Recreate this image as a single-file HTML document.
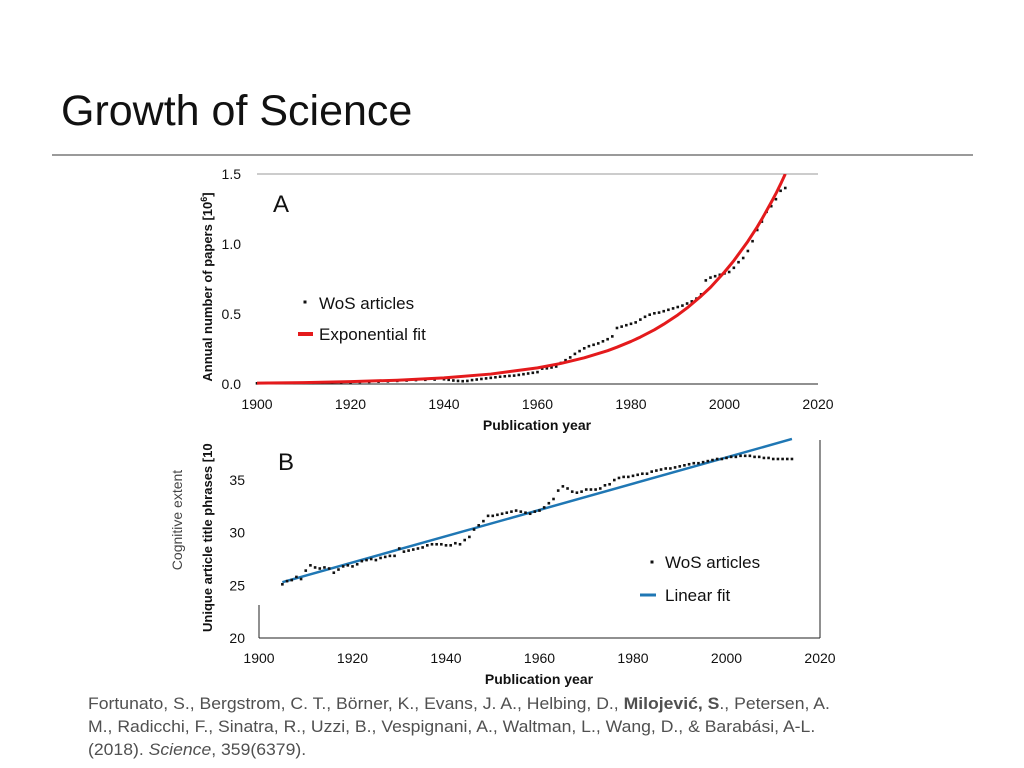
<!DOCTYPE html>
<html><head><meta charset="utf-8"><style>
html,body{margin:0;padding:0;background:#fff;width:1024px;height:768px;overflow:hidden;font-family:"Liberation Sans",Arial,sans-serif}
#title{position:absolute;left:61px;top:87px;font-size:43px;color:#111;white-space:nowrap}
#rule{position:absolute;left:52px;top:154px;width:921px;height:2px;background:#9a9a9a}
#cite{position:absolute;left:88px;top:692px;font-size:17px;line-height:23px;color:#505050;white-space:nowrap;transform-origin:0 0;transform:scaleX(1.035)}
svg{position:absolute;left:0;top:0}
</style></head><body>
<div id="title">Growth of Science</div>
<div id="rule"></div>
<svg id="chart" width="1024" height="768"></svg>
<div id="cite">Fortunato, S., Bergstrom, C. T., Börner, K., Evans, J. A., Helbing, D., <b>Milojević, S</b>., Petersen, A.<br>M., Radicchi, F., Sinatra, R., Uzzi, B., Vespignani, A., Waltman, L., Wang, D., &amp; Barabási, A-L.<br>(2018). <i>Science</i>, 359(6379).</div>
<script>
const yearsA = [1900,1902,1904,1906,1908,1910,1912,1914,1916,1918,1920,1922,1924,1926,1928,1930,1932,1934,1936,1938,1940,1941,1942,1943,1944,1945,1946,1947,1948,1949,1950,1951,1952,1953,1954,1955,1956,1957,1958,1959,1960,1961,1962,1963,1964,1965,1966,1967,1968,1969,1970,1971,1972,1973,1974,1975,1976,1977,1978,1979,1980,1981,1982,1983,1984,1985,1986,1987,1988,1989,1990,1991,1992,1993,1994,1995,1996,1997,1998,1999,2000,2001,2002,2003,2004,2005,2006,2007,2008,2009,2010,2011,2012,2013];
const papersA = [0.005,0.006,0.006,0.007,0.007,0.008,0.008,0.009,0.009,0.010,0.012,0.014,0.015,0.017,0.019,0.022,0.025,0.028,0.030,0.032,0.034,0.030,0.025,0.022,0.020,0.022,0.028,0.032,0.036,0.040,0.044,0.048,0.052,0.055,0.058,0.060,0.065,0.070,0.075,0.080,0.085,0.110,0.112,0.118,0.125,0.150,0.170,0.190,0.215,0.235,0.255,0.270,0.280,0.290,0.305,0.320,0.340,0.400,0.410,0.420,0.430,0.440,0.460,0.480,0.495,0.505,0.510,0.520,0.530,0.540,0.550,0.560,0.575,0.590,0.610,0.640,0.740,0.760,0.770,0.780,0.790,0.800,0.830,0.870,0.900,0.950,1.020,1.100,1.160,1.230,1.270,1.320,1.380,1.400];
const fitYearsA = [1900,1910,1920,1930,1940,1950,1960,1965,1970,1975,1977,1980,1982,1985,1987,1990,1992,1995,1997,2000,2002,2005,2007,2008,2010,2011,2012,2013];
const fitA = [0.006,0.010,0.017,0.027,0.044,0.071,0.115,0.147,0.187,0.238,0.263,0.304,0.335,0.387,0.427,0.493,0.543,0.628,0.690,0.800,0.881,1.019,1.122,1.178,1.298,1.360,1.428,1.500];
const xTicksA = [1900,1920,1940,1960,1980,2000,2020];
const yTicksA = [0.0,0.5,1.0,1.5];

const yearsB = [];for(let y=1905;y<=2014;y++)yearsB.push(y);
const phrasesB = [25.1,25.4,25.5,25.8,25.6,26.4,26.9,26.7,26.6,26.7,26.6,26.2,26.5,26.8,26.9,26.8,27.0,27.3,27.4,27.5,27.4,27.6,27.7,27.8,27.8,28.5,28.2,28.3,28.4,28.5,28.6,28.8,28.9,28.9,28.9,28.8,28.8,29.0,28.9,29.3,29.6,30.3,30.7,31.1,31.6,31.6,31.7,31.8,31.9,32.0,32.1,32.0,31.9,31.8,32.0,32.1,32.4,32.8,33.2,34.0,34.4,34.2,33.9,33.8,33.9,34.1,34.1,34.1,34.2,34.5,34.6,35.0,35.2,35.3,35.3,35.4,35.5,35.6,35.6,35.8,35.9,36.0,36.1,36.1,36.2,36.3,36.4,36.5,36.6,36.6,36.7,36.8,36.9,37.0,37.0,37.1,37.2,37.2,37.3,37.3,37.3,37.2,37.2,37.1,37.1,37.0,37.0,37.0,37.0,37.0];
const fitYearsB = [1905,2014];
const fitB = [25.3,38.9];
const xTicksB = [1900,1920,1940,1960,1980,2000,2020];
const yTicksB = [20,25,30,35];

const NS='http://www.w3.org/2000/svg';
const svg=document.getElementById('chart');
function mk(tag,attrs,parent){const e=document.createElementNS(NS,tag);for(const k in attrs)e.setAttribute(k,attrs[k]);(parent||svg).appendChild(e);return e;}
const defs=mk('defs',{});
const cA=mk('clipPath',{id:'clipA'},defs);mk('rect',{x:257,y:174,width:561,height:212},cA);
const cB=mk('clipPath',{id:'clipYB'},defs);mk('rect',{x:190,y:440,width:40,height:200},cB);

// Chart A
const xA=y=>257+(y-1900)*(818-257)/120;
const yA=v=>384-v*(384-174)/1.5;
const gA=mk('g',{});


mk('line',{x1:257,y1:174,x2:818,y2:174,stroke:'#999','stroke-width':1},gA);
mk('line',{x1:257,y1:384,x2:818,y2:384,stroke:'#222','stroke-width':1},gA);
xTicksA.forEach(t=>{const e=mk('text',{x:xA(t),y:409,'font-size':14,'text-anchor':'middle',fill:'#111'},gA);e.textContent=t;

});
yTicksA.forEach(t=>{const e=mk('text',{x:241,y:yA(t)+5,'font-size':14,'text-anchor':'end',fill:'#111'},gA);e.textContent=t.toFixed(1);

});
let tA=mk('text',{x:537,y:430,'font-size':14,'font-weight':'bold','text-anchor':'middle',fill:'#111'},gA);tA.textContent='Publication year';


let yAt=mk('text',{transform:'translate(212,287) rotate(-90)','font-size':13,'font-weight':'bold','text-anchor':'middle',fill:'#111'},gA);yAt.innerHTML='Annual number of papers [10<tspan font-size="9" dy="-5">6</tspan><tspan dy="5">]</tspan>';


let lA=mk('text',{x:273,y:212,'font-size':24,fill:'#111'},gA);lA.textContent='A';


yearsA.forEach((y,i)=>{const r=mk('rect',{x:xA(y)-1.3,y:yA(papersA[i])-1.3,width:2.6,height:2.6,fill:'#111'},gA);

});
let pA=mk('path',{d:fitYearsA.map((y,i)=>(i?'L':'M')+xA(y)+','+yA(fitA[i])).join(''),fill:'none',stroke:'#e41a1c','stroke-width':3,'stroke-linejoin':'round','clip-path':'url(#clipA)'},gA);


let lg1=mk('g',{},gA);


mk('rect',{x:303.5,y:300.5,width:3,height:3,fill:'#111'},lg1);
let lt1=mk('text',{x:319,y:309,'font-size':17,fill:'#111'},lg1);lt1.textContent='WoS articles';
mk('line',{x1:298,y1:334,x2:313,y2:334,stroke:'#e41a1c','stroke-width':4},lg1);
let lt2=mk('text',{x:319,y:340,'font-size':17,fill:'#111'},lg1);lt2.textContent='Exponential fit';

// Chart B
const xB=y=>259+(y-1900)*(820-259)/120;
const yB=v=>638-(v-20)*10.53;
const gB=mk('g',{});


mk('line',{x1:259,y1:605,x2:259,y2:638,stroke:'#222'},gB);
mk('line',{x1:259,y1:638,x2:820,y2:638,stroke:'#222'},gB);
mk('line',{x1:820,y1:440,x2:820,y2:638,stroke:'#222'},gB);
xTicksB.forEach(t=>{const e=mk('text',{x:xB(t),y:663,'font-size':14,'text-anchor':'middle',fill:'#111'},gB);e.textContent=t;

});
yTicksB.forEach(t=>{const e=mk('text',{x:245,y:yB(t)+5,'font-size':14,'text-anchor':'end',fill:'#111'},gB);e.textContent=t;

});
let tB=mk('text',{x:539,y:684,'font-size':14,'font-weight':'bold','text-anchor':'middle',fill:'#111'},gB);tB.textContent='Publication year';


let clipG=mk('g',{'clip-path':'url(#clipYB)'},gB);
let yBt=mk('text',{transform:'translate(212,632) rotate(-90)','font-size':13,'font-weight':'bold','text-anchor':'start',fill:'#111'},clipG);
yBt.textContent='Unique article title phrases [10';


let ce=mk('text',{transform:'translate(182,520) rotate(-90)','font-size':14,'text-anchor':'middle',fill:'#444'},gB);ce.textContent='Cognitive extent';


let lB=mk('text',{x:278,y:470,'font-size':24,fill:'#111'},gB);lB.textContent='B';


let pB=mk('path',{d:fitYearsB.map((y,i)=>(i?'L':'M')+xB(y)+','+yB(fitB[i])).join(''),fill:'none',stroke:'#1f77b4','stroke-width':2.5},gB);


yearsB.forEach((y,i)=>{const r=mk('rect',{x:xB(y)-1.3,y:yB(phrasesB[i])-1.3,width:2.6,height:2.6,fill:'#111'},gB);

});
let lg2=mk('g',{},gB);


mk('rect',{x:650.5,y:560.5,width:3,height:3,fill:'#111'},lg2);
let lt3=mk('text',{x:665,y:568,'font-size':17,fill:'#111'},lg2);lt3.textContent='WoS articles';
mk('line',{x1:640,y1:595,x2:656,y2:595,stroke:'#1f77b4','stroke-width':3},lg2);
let lt4=mk('text',{x:665,y:601,'font-size':17,fill:'#111'},lg2);lt4.textContent='Linear fit';
</script>
</body></html>
